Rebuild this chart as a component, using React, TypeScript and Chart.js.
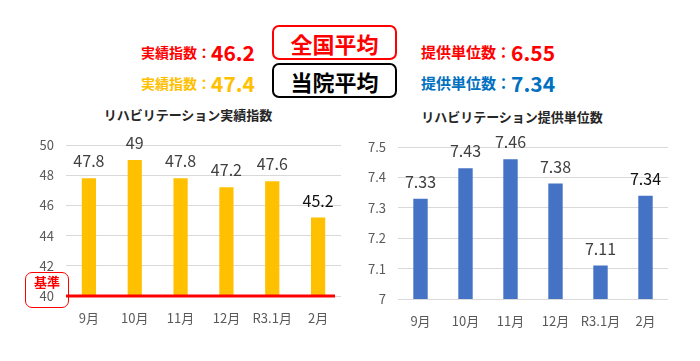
import React, { useEffect, useRef } from "react";
import { Chart, registerables } from "chart.js";

Chart.register(...registerables);

// ---- data ----
const months = ["9月", "10月", "11月", "12月", "R3.1月", "2月"];
const achievementIndex = [47.8, 49, 47.8, 47.2, 47.6, 45.2];
const unitsProvided = [7.33, 7.43, 7.46, 7.38, 7.11, 7.34];
const achievementAxis = [40, 50, 2]; // min, max, step
const unitsAxis = [7, 7.5, 0.1];
const achievementBaseline = 40;
const nationalAchievement = "46.2";
const hospitalAchievement = "47.4";
const nationalUnits = "6.55";
const hospitalUnits = "7.34";

const FONT = "'Noto Sans CJK JP', 'Noto Sans', sans-serif";

type Props = {
  values: number[];
  color: string;
  axis: number[];
  baseline?: number;
  padTop: number;
  padRight: number;
  yWidth: number;
  xHeight: number;
  barPct: number;
};

function BarChart(p: Props) {
  const ref = useRef<HTMLCanvasElement>(null);
  useEffect(() => {
    const labelPlugin = {
      id: "valueLabels",
      afterDatasetsDraw(chart: any) {
        const ctx = chart.ctx;
        const meta = chart.getDatasetMeta(0);
        ctx.save();
        ctx.font = `16px ${FONT}`;
        ctx.textAlign = "center";
        ctx.textBaseline = "middle";
        meta.data.forEach((el: any, i: number) => {
          ctx.fillStyle = i === p.values.length - 1 ? "#111111" : "#404040";
          ctx.fillText(String(p.values[i]), el.x, el.y - 17);
        });
        ctx.restore();
      },
    };
    const baselinePlugin = {
      id: "baseline",
      afterDatasetsDraw(chart: any) {
        if (p.baseline === undefined) return;
        const { ctx, chartArea } = chart;
        const y = chart.scales.y.getPixelForValue(p.baseline);
        ctx.save();
        ctx.strokeStyle = "#FF0000";
        ctx.lineWidth = 3;
        ctx.beginPath();
        ctx.moveTo(chartArea.left, y);
        ctx.lineTo(chartArea.right - 6, y);
        ctx.stroke();
        ctx.restore();
      },
    };
    const chart = new Chart(ref.current!, {
      type: "bar",
      data: {
        labels: months,
        datasets: [
          {
            data: p.values,
            backgroundColor: p.color,
            categoryPercentage: 1,
            barPercentage: p.barPct,
          },
        ],
      },
      options: {
        animation: false,
        responsive: false,
        maintainAspectRatio: false,
        layout: { padding: { top: p.padTop, right: p.padRight, left: 0, bottom: 0 } },
        plugins: { legend: { display: false }, tooltip: { enabled: false } },
        scales: {
          x: {
            grid: { display: false, drawTicks: false },
            border: { display: false },
            ticks: {
              color: "#595959",
              font: { family: FONT, size: 13 },
              padding: 14,
              maxRotation: 0,
              minRotation: 0,
              autoSkip: false,
            },
            afterFit: (s: any) => {
              s.height = p.xHeight;
              s.paddingLeft = 0;
              s.paddingRight = 0;
            },
          },
          y: {
            min: p.axis[0],
            max: p.axis[1],
            grid: { color: "#d9d9d9", drawTicks: false },
            border: { display: false },
            ticks: {
              stepSize: p.axis[2],
              color: "#595959",
              font: { family: FONT, size: 13 },
              padding: 12,
              callback: (v: any) => String(+Number(v).toFixed(2)),
            },
            afterFit: (s: any) => {
              s.width = p.yWidth;
              s.paddingTop = 0;
              s.paddingBottom = 0;
            },
          },
        },
      },
      plugins: [baselinePlugin, labelPlugin],
    });
    return () => chart.destroy();
  }, []);
  return <canvas ref={ref} width={350} height={210} style={{ width: 350, height: 210, display: "block" }} />;
}

const abs = (x: number, y: number, extra: any = {}) => ({
  position: "absolute" as const,
  left: x,
  top: y,
  whiteSpace: "nowrap" as const,
  ...extra,
});

function Stat({ x, y, label, value, color, size }: any) {
  return (
    <div style={abs(x, y, { color, fontWeight: 700, display: "flex", alignItems: "center", height: 24, lineHeight: "24px" })}>
      <span style={{ fontSize: size }}>{label}：</span>
      <span style={{ fontSize: 21 }}>{value}</span>
    </div>
  );
}

export default function App() {
  return (
    <div
      style={{
        position: "fixed",
        left: 0,
        top: 0,
        width: 700,
        height: 361,
        background: "#fff",
        fontFamily: FONT,
        overflow: "hidden",
      }}
    >
      <Stat x={141} y={40} size={14} label="実績指数" value={nationalAchievement} color="#FF0000" />
      <Stat x={141} y={71} size={14} label="実績指数" value={hospitalAchievement} color="#FFC000" />
      <Stat x={421} y={40} size={15} label="提供単位数" value={nationalUnits} color="#FF0000" />
      <Stat x={421} y={71} size={15} label="提供単位数" value={hospitalUnits} color="#0070C0" />
      <div
        style={abs(272, 25, {
          width: 125,
          height: 35,
          boxSizing: "border-box",
          border: "2.5px solid #FF0000",
          borderRadius: 7,
          color: "#FF0000",
          fontWeight: 700,
          fontSize: 22,
          display: "flex",
          alignItems: "center",
          justifyContent: "center",
        })}
      >
        全国平均
      </div>
      <div
        style={abs(272, 63, {
          width: 125,
          height: 35,
          boxSizing: "border-box",
          border: "2.5px solid #000",
          borderRadius: 7,
          color: "#000",
          fontWeight: 700,
          fontSize: 22,
          display: "flex",
          alignItems: "center",
          justifyContent: "center",
        })}
      >
        当院平均
      </div>
      <div style={abs(0, 106, { width: 376, textAlign: "center", fontWeight: 700, fontSize: 13, color: "#262626", lineHeight: "18px" })}>
        リハビリテーション実績指数
      </div>
      <div style={abs(362, 108, { width: 300, textAlign: "center", fontWeight: 700, fontSize: 13, color: "#262626", lineHeight: "18px" })}>
        リハビリテーション提供単位数
      </div>
      <div style={abs(0, 130, { width: 350, height: 210 })}>
        <BarChart
          values={achievementIndex}
          color="#FFC000"
          axis={achievementAxis}
          baseline={achievementBaseline}
          padTop={15}
          padRight={9}
          yWidth={66}
          xHeight={44}
          barPct={0.31}
        />
      </div>
      <div style={abs(350, 130, { width: 350, height: 210 })}>
        <BarChart
          values={unitsProvided}
          color="#4472C4"
          axis={unitsAxis}
          padTop={17}
          padRight={32}
          yWidth={48}
          xHeight={41}
          barPct={0.32}
        />
      </div>
      <div
        style={abs(25, 272, {
          width: 44,
          height: 36,
          boxSizing: "border-box",
          border: "1px solid #FF0000",
          borderRadius: 7,
          color: "#FF0000",
          fontSize: 13,
          fontWeight: 700,
          textAlign: "center",
          lineHeight: "17px",
        })}
      >
        基準
      </div>
    </div>
  );
}
